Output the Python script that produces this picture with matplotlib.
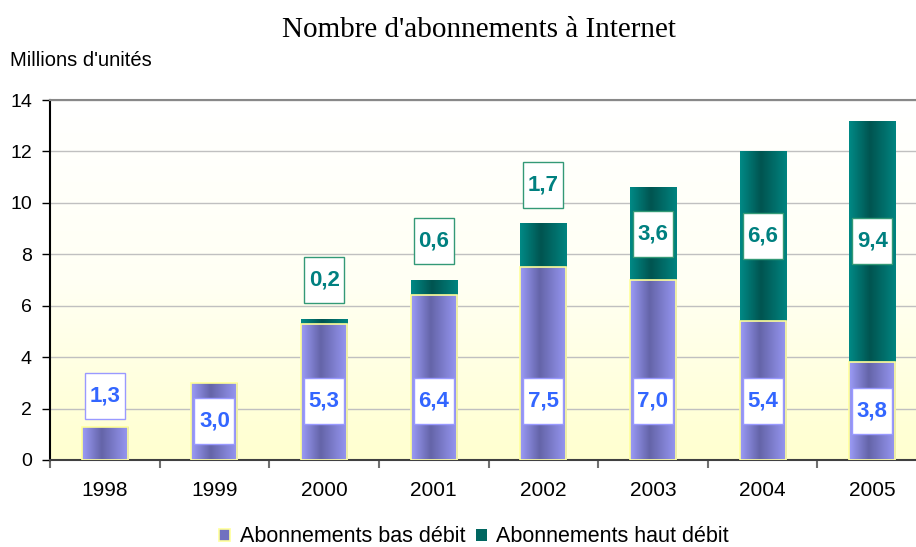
import numpy as np
import matplotlib.pyplot as plt
from matplotlib.colors import LinearSegmentedColormap
from matplotlib.patches import Rectangle, Patch

years = ['1998', '1999', '2000', '2001', '2002', '2003', '2004', '2005']
bas_debit = [1.3, 3.0, 5.3, 6.4, 7.5, 7.0, 5.4, 3.8]
haut_debit = [0.0, 0.0, 0.2, 0.6, 1.7, 3.6, 6.6, 9.4]

bas_cmap = LinearSegmentedColormap.from_list('bas', [(0, '#9c9cf8'), (0.42, '#6464a8'), (1, '#9898f4')])
haut_cmap = LinearSegmentedColormap.from_list('haut', [(0, '#008a86'), (0.45, '#005450'), (1, '#008480')])
bg_cmap = LinearSegmentedColormap.from_list('bg', ['#ffffcf', '#fffff4', '#ffffff'])


def gradient_fill(ax, bars, cmap):
    grad = np.linspace(0, 1, 256).reshape(1, -1)
    for b in bars:
        h = b.get_height()
        if h <= 0:
            continue
        x0, y0, w = b.get_x(), b.get_y(), b.get_width()
        im = ax.imshow(grad, cmap=cmap, extent=[x0, x0 + w, y0, y0 + h],
                       aspect='auto', interpolation='bicubic', zorder=2.9)
        im.set_clip_path(b)
        b.set_facecolor('none')


fig = plt.figure(figsize=(9.16, 5.47), dpi=100)
ax = fig.add_axes([50 / 916, 87 / 547, 877 / 916, 360 / 547])

# fond dégradé
ax.imshow(np.linspace(0, 1, 256).reshape(-1, 1), cmap=bg_cmap, extent=[0, 1, 0, 1],
          transform=ax.transAxes, aspect='auto', origin='lower', zorder=0)

x = np.arange(len(years))
width = 0.42
b1 = ax.bar(x, bas_debit, width, edgecolor='#ffff99', linewidth=1.2, zorder=3)
b2 = ax.bar(x, haut_debit, width, bottom=bas_debit, edgecolor='none', linewidth=0, zorder=3)
gradient_fill(ax, b1, bas_cmap)
gradient_fill(ax, b2, haut_cmap)

# étiquettes
bw, bh = 0.365, 1.79
for i, v in enumerate(bas_debit):
    y = v + 1.2 if v < 1.5 else min(v / 2, 2.3)
    ax.add_patch(Rectangle((i - bw / 2, y - bh / 2), bw, bh, facecolor='white',
                           edgecolor='#9999ff', linewidth=1, zorder=4))
    ax.text(i, y, f"{v:.1f}".replace('.', ','), ha='center', va='center',
            fontsize=16, fontweight='bold', color='#3366ff', family='Liberation Sans', zorder=5)
for i, v in enumerate(haut_debit):
    if v <= 0:
        continue
    y = bas_debit[i] + v + 1.5 if v < 2 else bas_debit[i] + v / 2
    ax.add_patch(Rectangle((i - bw / 2, y - bh / 2), bw, bh, facecolor='white',
                           edgecolor='#339977', linewidth=1, zorder=4))
    ax.text(i, y, f"{v:.1f}".replace('.', ','), ha='center', va='center',
            fontsize=16, fontweight='bold', color='#008080', family='Liberation Sans', zorder=5)

ax.set_xlim(-0.5, len(years) - 0.5)
ax.set_ylim(0, 14)
ax.set_yticks(range(0, 15, 2))
ax.set_xticks(x, years)
ax.set_xticks(np.arange(len(years) + 1) - 0.5, minor=True)
ax.tick_params(axis='x', which='major', length=0, pad=15, labelsize=15)
ax.tick_params(axis='x', which='minor', length=6, width=1.5, color='#707070')
ax.tick_params(axis='y', length=6, width=1, pad=7, labelsize=14)
for lab in ax.get_xticklabels() + ax.get_yticklabels():
    lab.set_family('Liberation Sans')

ax.yaxis.grid(True, color='#c0c0c0', linewidth=1)
ax.set_axisbelow(True)
ax.spines['right'].set_visible(False)
ax.spines['top'].set_color('#888888')
ax.spines['top'].set_linewidth(1.5)
ax.spines['left'].set_linewidth(1.5)
ax.spines['bottom'].set_color('#404040')
ax.spines['bottom'].set_linewidth(1.5)

fig.text(479 / 916, 1 - 30 / 547, "Nombre d'abonnements à Internet", ha='center', va='center',
         fontsize=21, family='Liberation Serif')
fig.text(10 / 916, 1 - 60 / 547, "Millions d'unités", ha='left', va='center',
         fontsize=14.5, family='Liberation Sans')

handles = [Patch(facecolor='#7070c0', edgecolor='#ffff99', linewidth=1.2),
           Patch(facecolor='#006660', edgecolor='none')]
fig.legend(handles, ['Abonnements bas débit', 'Abonnements haut débit'], loc='center',
           bbox_to_anchor=(474 / 916, 10 / 547), ncol=2, frameon=False,
           prop={'family': 'Liberation Sans', 'size': 15.5}, handlelength=0.5, handleheight=0.5,
           handletextpad=0.45, columnspacing=0.5)

fig.savefig('out.png', dpi=100)
